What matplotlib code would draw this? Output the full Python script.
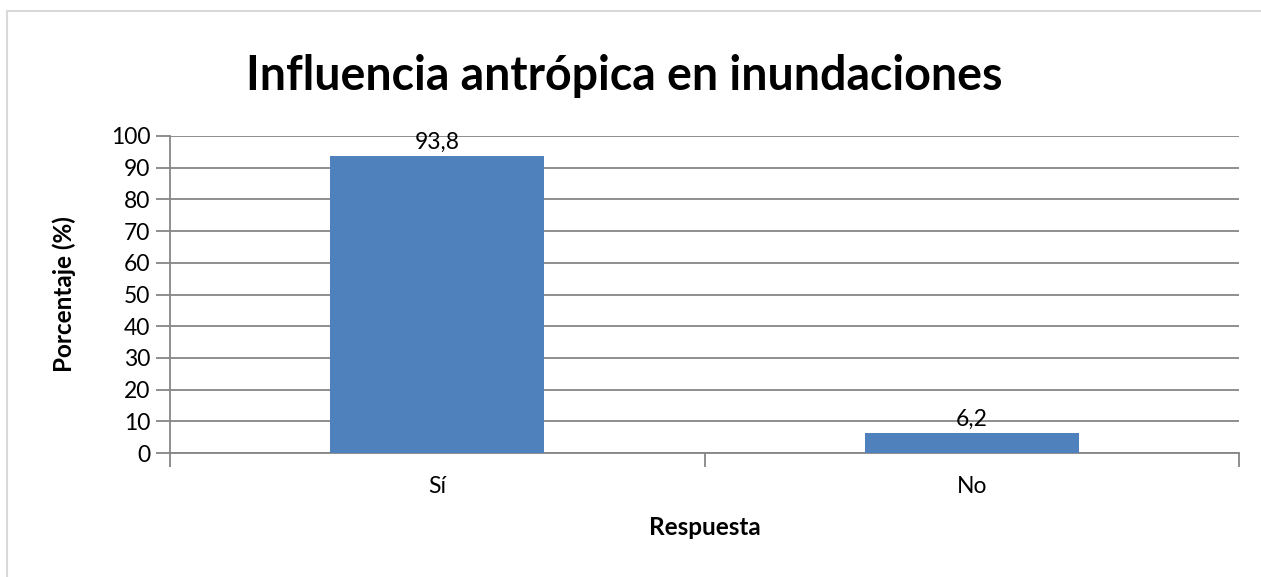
import matplotlib
matplotlib.use("Agg")
import matplotlib.pyplot as plt
from matplotlib.patches import Rectangle

categories = ["Sí", "No"]
values = [93.8, 6.2]
value_labels = ["93,8", "6,2"]
yticks = [0, 10, 20, 30, 40, 50, 60, 70, 80, 90, 100]

plt.rcParams['font.family'] = ['Lato', 'DejaVu Sans']

fig = plt.figure(figsize=(12.61, 5.77), dpi=100)
ax = fig.add_axes([0.1348, 0.2149, 0.9826 - 0.1348, 0.7643 - 0.2149])

grid_c = "#868686"
x = list(range(len(categories)))
ax.bar(x, values, width=0.4, color="#4F81BD", zorder=3)
for xi, v, lab in zip(x, values, value_labels):
    ax.text(xi, v + 1.0, lab, ha="center", va="bottom", fontsize=16.5, color="#000000", zorder=4)

ax.set_xlim(-0.5, 1.5)
ax.set_ylim(0, 100)
ax.set_yticks(yticks)
ax.set_yticklabels([str(t) for t in yticks], fontsize=16.5)
ax.yaxis.grid(True, color=grid_c, linewidth=1.3, zorder=1)
ax.set_axisbelow(True)

ax.set_xticks([-0.5, 0.5, 1.5], minor=False)
ax.set_xticklabels(["", "", ""])
ax.set_xticks(x, minor=True)
ax.set_xticklabels(categories, minor=True, fontsize=16.5)
ax.tick_params(axis="x", which="major", length=10, width=1.3, color=grid_c, direction="out")
ax.tick_params(axis="x", which="minor", length=0, pad=16.5)
ax.tick_params(axis="y", length=10, width=1.3, color=grid_c, direction="out", pad=4)

for s in ["top", "right"]:
    ax.spines[s].set_visible(False)
for s in ["left", "bottom"]:
    ax.spines[s].set_color(grid_c)
    ax.spines[s].set_linewidth(1.3)

ax.set_ylabel("Porcentaje (%)", fontsize=17.5, fontweight="bold", labelpad=25)
ax.set_xlabel("Respuesta", fontsize=17.5, fontweight="bold", labelpad=14)

fig.text(0.495, 0.868, "Influencia antrópica en inundaciones", ha="center", va="center",
         fontsize=33.5, fontweight="bold")

fig.patches.append(Rectangle((7 / 1261, -0.05), 1.2, 1 - 11 / 577 + 0.05, transform=fig.transFigure,
                             fill=False, edgecolor="#D9D9D9", linewidth=1.5))

fig.savefig("out.png", dpi=100)
